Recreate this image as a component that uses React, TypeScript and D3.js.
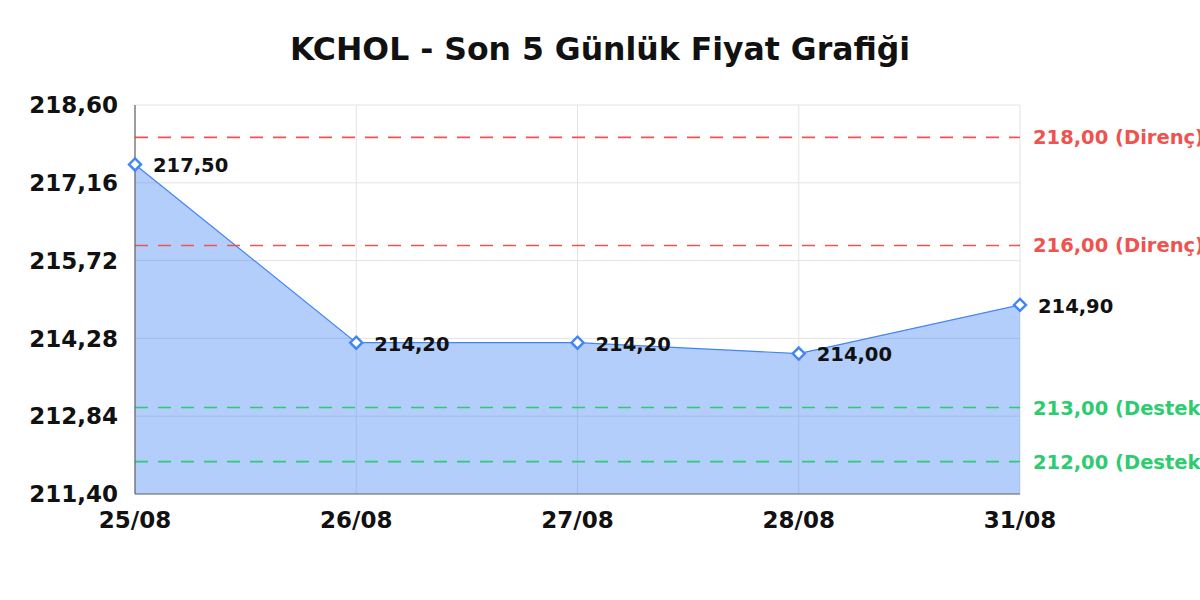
import * as d3 from 'd3';

const dates = ['25/08', '26/08', '27/08', '28/08', '31/08'];
const prices = [217.5, 214.2, 214.2, 214.0, 214.9];
const yTicks = [211.4, 212.84, 214.28, 215.72, 217.16, 218.6];
const resistance = [218, 216];
const support = [213, 212];

const W = 1200;
const H = 600;
const m = { left: 135, right: 180, top: 105, bottom: 106 };

const fmt = (v: number) => v.toFixed(2).replace('.', ',');

export default function App() {
  const x = d3.scalePoint<string>()
    .domain(dates)
    .range([m.left, W - m.right]);
  const y = d3.scaleLinear()
    .domain([211.4, 218.6])
    .range([H - m.bottom, m.top]);

  const pts = dates.map((d, i) => [x(d)!, y(prices[i])] as [number, number]);
  const line = d3.line<[number, number]>().x(d => d[0]).y(d => d[1]);
  const area = d3.area<[number, number]>()
    .x(d => d[0])
    .y0(y(211.4))
    .y1(d => d[1]);

  const font = '"DejaVu Sans", sans-serif';
  const x0 = m.left;
  const x1 = W - m.right;

  return (
    <div style={{ position: 'fixed', left: 0, top: 0 }}>
      <svg width={W} height={H} style={{ display: 'block', background: '#fff' }} fontFamily={font}>
        <text x={600} y={60} textAnchor="middle" fontSize={31.5} fontWeight="bold" fill="#111">
          KCHOL - Son 5 Günlük Fiyat Grafiği
        </text>

        {/* grid */}
        {yTicks.map(t => (
          <line key={t} x1={x0} x2={x1} y1={y(t)} y2={y(t)} stroke="#e3e3e3" strokeWidth={1} />
        ))}
        {dates.map(d => (
          <line key={d} x1={x(d)} x2={x(d)} y1={m.top} y2={y(211.4)} stroke="#e3e3e3" strokeWidth={1} />
        ))}

        <path d={area(pts) || ''} fill="#4285f4" fillOpacity={0.4} />
        <path d={line(pts) || ''} fill="none" stroke="#4285f4" strokeWidth={1.2} />

        {resistance.map(r => (
          <g key={r}>
            <line x1={x0} x2={x1} y1={y(r)} y2={y(r)} stroke="#ef5350" strokeWidth={1.6} strokeDasharray="13,10" />
            <text x={1033} y={y(r)} dy="0.36em" fontSize={19.5} fontWeight="bold" fill="#ef5350">
              {fmt(r)} (Direnç)
            </text>
          </g>
        ))}
        {support.map(s => (
          <g key={s}>
            <line x1={x0} x2={x1} y1={y(s)} y2={y(s)} stroke="#2ecc71" strokeWidth={1.6} strokeDasharray="13,10" />
            <text x={1033} y={y(s)} dy="0.36em" fontSize={19.5} fontWeight="bold" fill="#2ecc71">
              {fmt(s)} (Destek)
            </text>
          </g>
        ))}

        {/* axes */}
        <line x1={x0} x2={x0} y1={m.top} y2={y(211.4)} stroke="#666" strokeWidth={1.2} />
        <line x1={x0} x2={x1} y1={y(211.4)} y2={y(211.4)} stroke="#666" strokeWidth={1.2} />

        {yTicks.map(t => (
          <text key={t} x={118} y={y(t)} dy="0.36em" textAnchor="end" fontSize={23} fontWeight="bold" fill="#111">
            {fmt(t)}
          </text>
        ))}
        {dates.map(d => (
          <text key={d} x={x(d)} y={528} textAnchor="middle" fontSize={23} fontWeight="bold" fill="#111">
            {d}
          </text>
        ))}

        {pts.map(([px, py], i) => (
          <g key={i}>
            <path
              d={`M${px},${py - 6}L${px + 6},${py}L${px},${py + 6}L${px - 6},${py}Z`}
              fill="#fff"
              stroke="#4285f4"
              strokeWidth={2.4}
            />
            <text x={px + 18} y={py} dy="0.4em" fontSize={19.5} fontWeight="bold" fill="#111">
              {fmt(prices[i])}
            </text>
          </g>
        ))}
      </svg>
    </div>
  );
}
